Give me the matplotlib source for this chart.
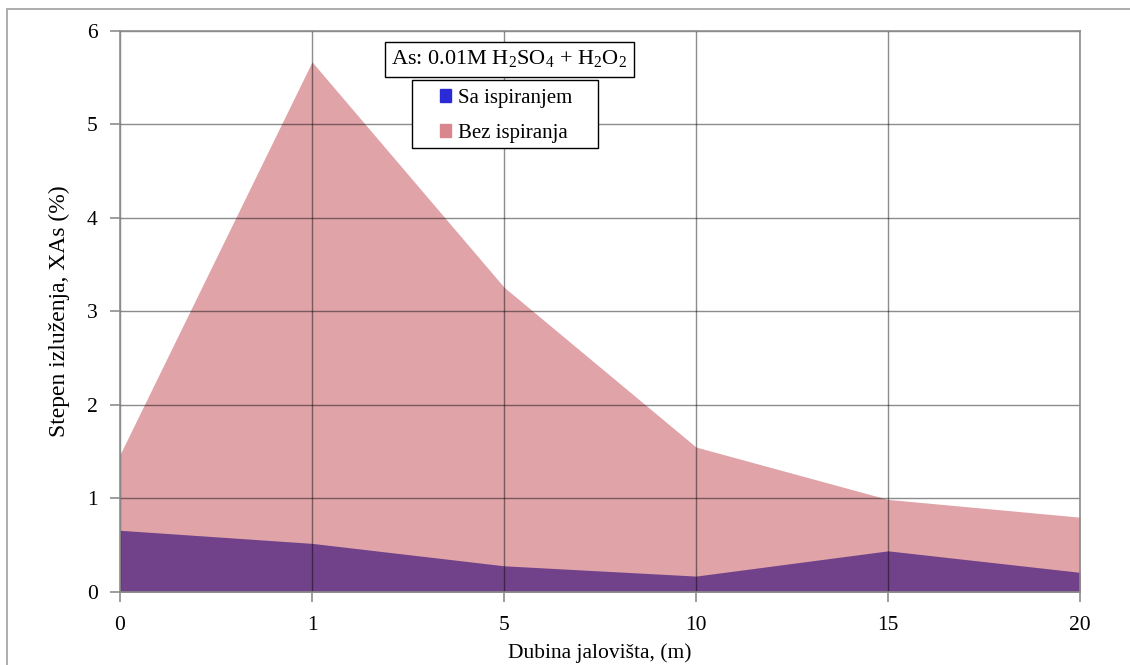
import matplotlib
matplotlib.use('Agg')
import matplotlib.pyplot as plt
from matplotlib.patches import Patch, Rectangle

plt.rcParams['font.family'] = ['Liberation Serif', 'DejaVu Serif']
plt.rcParams['mathtext.fontset'] = 'custom'
plt.rcParams['mathtext.rm'] = 'Liberation Serif'

# depth categories and leaching degree
depths = ['0', '1', '5', '10', '15', '20']
bez_ispiranja = [1.47, 5.67, 3.26, 1.55, 0.99, 0.80]
sa_ispiranjem = [0.66, 0.52, 0.28, 0.17, 0.44, 0.21]

x = list(range(len(depths)))

fig = plt.figure(figsize=(11.3, 6.65), dpi=100)
ax = fig.add_axes([0.1062, 0.1098, 0.8496, 0.8436])

# outer chart border
fig.patches.append(Rectangle((7 / 1130, -0.1), 1.2, (665 - 9) / 665 + 0.1,
                             transform=fig.transFigure, fill=False,
                             edgecolor='#a0a0a0', linewidth=1.2))

ax.fill_between(x, 0, bez_ispiranja, color='#dfa3a8', linewidth=0, zorder=1)
ax.fill_between(x, 0, sa_ispiranjem, color='#714289', linewidth=0, zorder=2)

ax.set_xlim(0, len(depths) - 1)
ax.set_ylim(0, 6)
ax.set_xticks(x)
ax.set_xticklabels(depths)
ax.set_yticks(range(0, 7))

ax.grid(True, color='black', alpha=0.45, linewidth=1.0, zorder=3)
ax.set_axisbelow(False)
for s in ax.spines.values():
    s.set_color('#8c8c8c')
    s.set_linewidth(1.2)
    s.set_zorder(4)

ax.tick_params(axis='both', direction='out', length=7, width=1.2, color='#8c8c8c',
               labelsize=15.5)
ax.tick_params(axis='y', pad=9)
ax.tick_params(axis='x', pad=10)

ax.set_xlabel('Dubina jalovišta, (m)', fontsize=15.5, labelpad=6)
ax.set_ylabel('Stepen izluženja, XAs (%)', fontsize=17, labelpad=12)

ax.text(0.2826, 0.969, r'As: 0.01M H$_2$SO$_4$ + H$_2$O$_2$', transform=ax.transAxes,
        fontsize=16, ha='left', va='top', zorder=6,
        bbox=dict(boxstyle='square,pad=0.3', facecolor='white', edgecolor='black', linewidth=1.0))

# legend box drawn separately (wide horizontal padding like the reference)
fig.patches.append(Rectangle((412 / 1130, (665 - 148) / 665), 186 / 1130, 68 / 665,
                             transform=fig.transFigure, facecolor='white',
                             edgecolor='black', linewidth=1.0, zorder=5))

handles = [Patch(facecolor='#2b2bd6', edgecolor='#2b2bd6', label='Sa ispiranjem'),
           Patch(facecolor='#d9868e', edgecolor='#d9868e', label='Bez ispiranja')]
leg = fig.legend(handles=handles, loc='upper left', bbox_to_anchor=(440 / 1130, 1 - 89 / 665),
                 fontsize=15, frameon=False, handlelength=0.55,
                 handleheight=0.55, handletextpad=0.3, borderpad=0, labelspacing=0.75,
                 borderaxespad=0)
leg.set_zorder(6)

plt.savefig('out.png', dpi=100)
